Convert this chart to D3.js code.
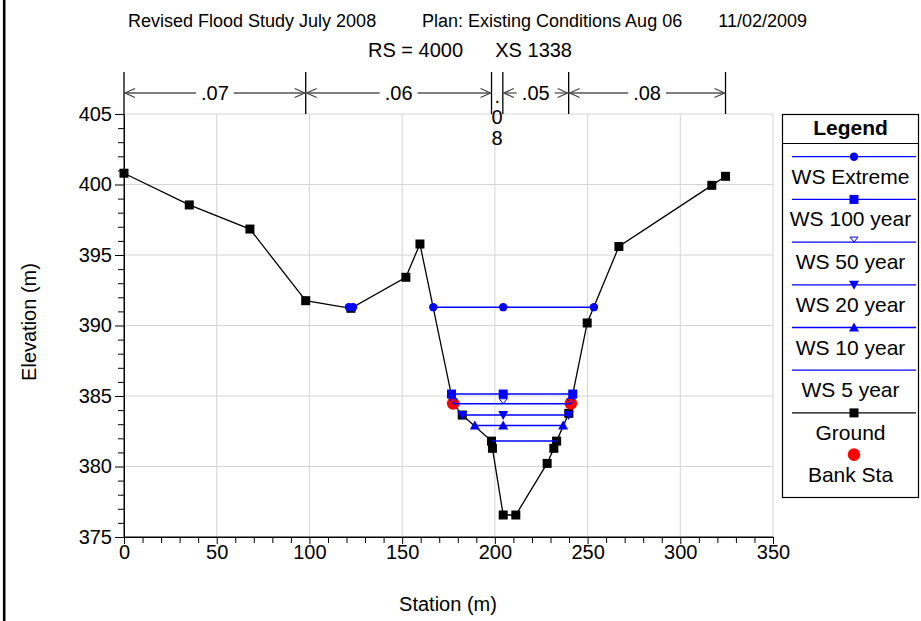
<!doctype html>
<html lang="en-US">
<head>
<meta charset="UTF-8">
<title>RS 4000 XS 1338</title>
<script src="https://d3js.org/d3.v7.min.js" charset="utf-8"></script>
<style>
  body { margin: 0; background: #fff; }
  svg { display: block; font-family: Arial, "Liberation Sans", sans-serif; }
</style>
</head>
<body>
<svg id="cvas" width="921" height="621"></svg>
<script>
// ---- data ---- //
const titleParts = ["Revised Flood Study July 2008", "Plan: Existing Conditions Aug 06", "11/02/2009"];
const subTitle = ["RS = 4000", "XS 1338"];

const groundSta  = [0, 35.2, 67.9, 98, 122.4, 152, 159.6, 177.5, 182.4, 198.2, 198.7, 204.5, 211.3, 228.2, 231.8, 233.3, 239.9, 241.0, 249.8, 266.9, 317, 324.4];
const groundElev = [400.8, 398.55, 396.84, 391.76, 391.22, 393.42, 395.78, 384.48, 383.65, 381.8, 381.29, 376.56, 376.56, 380.22, 381.29, 381.8, 383.77, 384.48, 390.18, 395.6, 399.94, 400.58];

const bankSta = [177.5, 241.0];
const bankElev = [384.48, 384.48];

const wsNames = ["WS Extreme", "WS 100 year", "WS 50 year", "WS 20 year", "WS 10 year", "WS 5 year"];
const wsElev = [391.3, 385.14, 384.45, 383.65, 382.9, 381.8];
const wsSegments = [
    [[121.3, 123.5], [166.8, 253.4]],
    [[176.6, 242.0]],
    [[177.5, 241.0]],
    [[182.4, 239.8]],
    [[189.2, 236.8]],
    [[198.2, 233.3]]
];
const wsMarkerSta = [
    [121.3, 123.5, 166.8, 204.5, 253.4],
    [176.6, 204.5, 242.0],
    [177.5, 204.5, 241.0],
    [182.4, 204.5, 239.8],
    [189.2, 204.5, 236.8],
    []
];
const wsMarker = ["circle", "square", "openDown", "down", "up", "none"];

const nBounds = [0, 98, 198.2, 204.3, 239.8, 324.4];
const nValues = [".07", ".06", ".08", ".05", ".08"];

const xTicks = [0, 50, 100, 150, 200, 250, 300, 350];
const yTicks = [375, 380, 385, 390, 395, 400, 405];

// ---- layout ---- //
const BLUE = "#0000ff";
const GRID = "#d4d4d4";
const plot = { left: 124, right: 773, top: 114, bottom: 537 };

const svg = d3.select("#cvas");

const x = d3.scaleLinear().domain([0, 350]).range([plot.left, plot.right]);
const y = d3.scaleLinear().domain([375, 405]).range([plot.bottom, plot.top]);

// left page border
svg.append("line").attr("x1", 4.2).attr("x2", 4.2).attr("y1", 0).attr("y2", 621)
    .style("stroke", "#000").style("stroke-width", 2.6);

// titles
svg.append("text").attr("x", 128).attr("y", 27).style("font-size", "18px").text(titleParts[0]);
svg.append("text").attr("x", 422).attr("y", 27).style("font-size", "18px").text(titleParts[1]);
svg.append("text").attr("x", 807).attr("y", 27).attr("text-anchor", "end").style("font-size", "18px").text(titleParts[2]);
svg.append("text").attr("x", 368).attr("y", 57).style("font-size", "20px").text(subTitle[0]);
svg.append("text").attr("x", 572).attr("y", 57).attr("text-anchor", "end").style("font-size", "20px").text(subTitle[1]);

// grid
svg.selectAll(".vgrid").data(xTicks.slice(1)).enter().append("line")
    .attr("class", "vgrid")
    .attr("x1", d => x(d)).attr("x2", d => x(d))
    .attr("y1", plot.top).attr("y2", plot.bottom)
    .style("stroke", GRID).style("stroke-width", 1);
svg.selectAll(".hgrid").data(yTicks.slice(1)).enter().append("line")
    .attr("class", "hgrid")
    .attr("x1", plot.left).attr("x2", plot.right)
    .attr("y1", d => y(d)).attr("y2", d => y(d))
    .style("stroke", GRID).style("stroke-width", 1);

// axes
const xMinor = d3.range(0, 351, 10).filter(d => d % 50 !== 0);
const yMinor = d3.range(375, 405.5, 1).filter(d => d % 5 !== 0);

svg.append("g").attr("transform", `translate(0,${plot.bottom})`)
    .call(d3.axisBottom(x).tickValues(xTicks).tickSize(7).tickPadding(1).tickSizeOuter(0));
svg.append("g").attr("transform", `translate(0,${plot.bottom})`)
    .call(d3.axisBottom(x).tickValues(xMinor).tickSize(6).tickFormat("").tickSizeOuter(0))
    .select(".domain").remove();
svg.append("g").attr("transform", `translate(${plot.left},0)`)
    .call(d3.axisLeft(y).tickValues(yTicks).tickSize(9).tickPadding(3).tickSizeOuter(0));
svg.append("g").attr("transform", `translate(${plot.left},0)`)
    .call(d3.axisLeft(y).tickValues(yMinor).tickSize(6).tickFormat("").tickSizeOuter(0))
    .select(".domain").remove();

svg.selectAll(".tick text").style("font-size", "20px").style("font-family", "Arial, 'Liberation Sans', sans-serif").attr("fill", "#000");
svg.selectAll(".domain, .tick line").style("stroke", "#000");

svg.append("text").attr("x", 448).attr("y", 611).attr("text-anchor", "middle")
    .style("font-size", "20px").text("Station (m)");
svg.append("text").attr("transform", "translate(36,322) rotate(-90)").attr("text-anchor", "middle")
    .style("font-size", "20px").text("Elevation (m)");

// Manning's n bar
const nTop = 72, nY = 93;
svg.selectAll(".nbound").data(nBounds).enter().append("line")
    .attr("class", "nbound")
    .attr("x1", d => x(d)).attr("x2", d => x(d))
    .attr("y1", nTop).attr("y2", plot.top)
    .style("stroke", "#000").style("stroke-width", 1.3);

function arrowHead(g, tipX, dir) {
    g.append("path")
        .attr("d", `M${tipX + dir * 10},${nY - 4.5} L${tipX},${nY} L${tipX + dir * 10},${nY + 4.5}`)
        .style("fill", "none").style("stroke", "#444").style("stroke-width", 1.2);
}

nValues.forEach((v, i) => {
    const x0 = x(nBounds[i]), x1 = x(nBounds[i + 1]);
    const cx = (x0 + x1) / 2;
    const g = svg.append("g");
    if (x1 - x0 < 30) {
        // too narrow: stack the characters
        v.split("").forEach((c, k) => {
            g.append("text").attr("x", cx).attr("y", 103 + k * 21).attr("text-anchor", "middle")
                .style("font-size", "20px").text(c);
        });
        return;
    }
    const t = g.append("text").attr("x", cx).attr("y", 100).attr("text-anchor", "middle")
        .style("font-size", "20px").text(v);
    const half = t.node().getComputedTextLength() / 2 + 5;
    g.append("line").attr("x1", x0).attr("x2", cx - half).attr("y1", nY).attr("y2", nY)
        .style("stroke", "#555").style("stroke-width", 1.3);
    g.append("line").attr("x1", cx + half).attr("x2", x1).attr("y1", nY).attr("y2", nY)
        .style("stroke", "#555").style("stroke-width", 1.3);
    arrowHead(g, x0 + 1, 1);
    arrowHead(g, x1 - 1, -1);
});

// markers
function drawMarker(g, type, cx, cy) {
    if (type === "circle") {
        g.append("circle").attr("cx", cx).attr("cy", cy).attr("r", 4.2).style("fill", BLUE);
    } else if (type === "square") {
        g.append("rect").attr("x", cx - 4.5).attr("y", cy - 4.5).attr("width", 9).attr("height", 9).style("fill", BLUE);
    } else if (type === "openDown") {
        g.append("path").attr("d", `M${cx - 4},${cy - 5} L${cx + 4},${cy - 5} L${cx},${cy} Z`)
            .style("fill", "none").style("stroke", BLUE).style("stroke-width", 1);
    } else if (type === "down") {
        g.append("path").attr("d", `M${cx - 5},${cy - 4} L${cx + 5},${cy - 4} L${cx},${cy + 5} Z`).style("fill", BLUE);
    } else if (type === "up") {
        g.append("path").attr("d", `M${cx - 5},${cy + 4} L${cx + 5},${cy + 4} L${cx},${cy - 5} Z`).style("fill", BLUE);
    } else if (type === "ground") {
        g.append("rect").attr("x", cx - 4.5).attr("y", cy - 4.5).attr("width", 9).attr("height", 9).style("fill", "#000");
    } else if (type === "bank") {
        g.append("circle").attr("cx", cx).attr("cy", cy).attr("r", 6.3).style("fill", "#ff0000");
    }
}

// ground
const groundData = groundSta.map((s, i) => [s, groundElev[i]]);
const line = d3.line().x(d => x(d[0])).y(d => y(d[1]));
svg.append("path").attr("d", line(groundData))
    .style("fill", "none").style("stroke", "#000").style("stroke-width", 1.3);
const gg = svg.append("g");
groundData.forEach(d => drawMarker(gg, "ground", x(d[0]), y(d[1])));

// bank stations
const gb = svg.append("g");
bankSta.forEach((s, i) => drawMarker(gb, "bank", x(s), y(bankElev[i])));

// water surfaces (lowest first)
for (let i = wsNames.length - 1; i >= 0; i--) {
    const g = svg.append("g");
    wsSegments[i].forEach(seg => {
        g.append("line")
            .attr("x1", x(seg[0])).attr("x2", x(seg[1]))
            .attr("y1", y(wsElev[i])).attr("y2", y(wsElev[i]))
            .style("stroke", BLUE).style("stroke-width", 1.5);
    });
    wsMarkerSta[i].forEach(s => drawMarker(g, wsMarker[i], x(s), y(wsElev[i])));
}

// axes lines on top
svg.append("line").attr("x1", plot.left).attr("x2", plot.left).attr("y1", plot.top).attr("y2", plot.bottom).style("stroke", "#000");
svg.append("line").attr("x1", plot.left).attr("x2", plot.right).attr("y1", plot.bottom).attr("y2", plot.bottom).style("stroke", "#000");

// legend
const lg = { left: 782.5, right: 918.5, top: 114.5, bottom: 497.5 };
const lgc = (lg.left + lg.right) / 2;
svg.append("rect").attr("x", lg.left).attr("y", lg.top)
    .attr("width", lg.right - lg.left).attr("height", lg.bottom - lg.top)
    .style("fill", "#fff").style("stroke", "#000").style("stroke-width", 1.2);
svg.append("line").attr("x1", lg.left).attr("x2", lg.right).attr("y1", 143.5).attr("y2", 143.5)
    .style("stroke", "#000").style("stroke-width", 1.2);
svg.append("text").attr("x", lgc).attr("y", 135).attr("text-anchor", "middle")
    .style("font-size", "21px").style("font-weight", "bold").text("Legend");

const legendNames = wsNames.concat(["Ground"]);
const legendMarkers = wsMarker.concat(["ground"]);
const legendStep = 42.7;
legendNames.forEach((name, i) => {
    const ly = 156.7 + i * legendStep;
    const g = svg.append("g");
    g.append("line").attr("x1", 792).attr("x2", 916).attr("y1", ly).attr("y2", ly)
        .style("stroke", i === 6 ? "#000" : BLUE).style("stroke-width", 1.3);
    drawMarker(g, legendMarkers[i], 854, ly);
    g.append("text").attr("x", lgc).attr("y", ly + 27).attr("text-anchor", "middle")
        .style("font-size", "21px").text(name);
});
const bankY = 156.7 + 7 * legendStep - 1;
drawMarker(svg.append("g"), "bank", 854, bankY);
svg.append("text").attr("x", lgc).attr("y", bankY + 27).attr("text-anchor", "middle")
    .style("font-size", "21px").text("Bank Sta");
</script>
</body>
</html>
